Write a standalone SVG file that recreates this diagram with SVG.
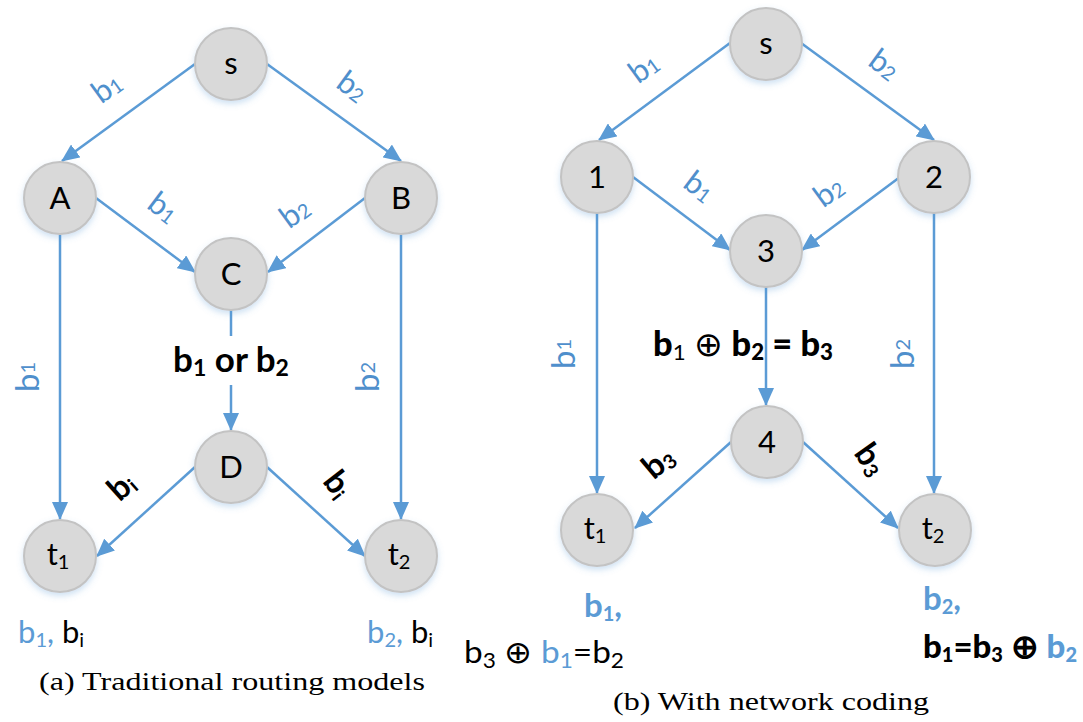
<svg xmlns="http://www.w3.org/2000/svg" width="1083" height="722" viewBox="0 0 1083 722">
<style>
.node circle{fill:#D9D9D9;stroke:#C3C3C3;stroke-width:2;filter:url(#glow)}
.node text{font-family:Lato,"Open Sans","Liberation Sans",sans-serif;font-size:31px;fill:#000;text-anchor:middle}
.edge{stroke:#5B9BD5;stroke-width:2.5;fill:none}
.arr{marker-end:url(#ah)}
.el{font-family:Lato,"Open Sans","Liberation Sans",sans-serif;font-size:31px;fill:#4F8FCC;text-anchor:middle}
.bl{font-family:Lato,"Open Sans","Liberation Sans",sans-serif;font-size:33px;font-weight:bold;fill:#000}
.rg{font-family:Lato,"Open Sans","Liberation Sans",sans-serif;font-size:31px;fill:#000}
.blue{fill:#5B9BD5}
.cap{font-family:"Liberation Serif","DejaVu Serif",serif;font-size:26px;fill:#000}
.sub{font-size:20px}
</style>
<defs>
<marker id="ah" markerUnits="userSpaceOnUse" markerWidth="18" markerHeight="16" refX="17" refY="8" orient="auto">
<path d="M0,0 L18,8 L0,16 z" fill="#5B9BD5"/>
</marker>
<filter id="glow" x="-30%" y="-30%" width="160%" height="170%">
<feDropShadow dx="0" dy="3" stdDeviation="3" flood-color="#5B9BD5" flood-opacity="0.3"/>
</filter>
</defs>

<g id="connectors">
<path class="edge arr" d="M195,64 L62,161"/>
<path class="edge arr" d="M267,64 L401,161"/>
<path class="edge arr" d="M96,198 L195,272"/>
<path class="edge arr" d="M365,198 L268,272"/>
<path class="edge arr" d="M60,235 L60,519"/>
<path class="edge arr" d="M401,235 L401,519"/>
<path class="edge" d="M231,310 L231,336"/>
<path class="edge arr" d="M231,385 L231,430"/>
<path class="edge arr" d="M195,467 L97,556"/>
<path class="edge arr" d="M267,467 L365,556"/>

<path class="edge arr" d="M730,43 L599,140"/>
<path class="edge arr" d="M801,43 L934,140"/>
<path class="edge arr" d="M633,177 L730,250"/>
<path class="edge arr" d="M900,177 L802,250"/>
<path class="edge arr" d="M597,213 L597,493"/>
<path class="edge arr" d="M934,213 L934,493"/>
<path class="edge arr" d="M766,287 L766,405"/>
<path class="edge arr" d="M731,442 L635,528"/>
<path class="edge arr" d="M803,442 L898,528"/>
</g>

<g id="a-s" class="node"><circle cx="231" cy="64" r="36"/><text x="231" y="74">s</text></g>
<g id="a-A" class="node"><circle cx="60" cy="198" r="36"/><text x="60" y="209">A</text></g>
<g id="a-B" class="node"><circle cx="401" cy="198" r="36"/><text x="401" y="209">B</text></g>
<g id="a-C" class="node"><circle cx="231" cy="274" r="36"/><text x="231" y="285">C</text></g>
<g id="a-D" class="node"><circle cx="231" cy="467" r="36"/><text x="231" y="478">D</text></g>
<g id="a-t1" class="node"><circle cx="60" cy="556" r="36"/><text x="58" y="565">t<tspan class="sub" dy="4">1</tspan></text></g>
<g id="a-t2" class="node"><circle cx="401" cy="556" r="36"/><text x="399" y="565">t<tspan class="sub" dy="4">2</tspan></text></g>

<g id="b-s" class="node"><circle cx="766" cy="44" r="36"/><text x="766" y="54">s</text></g>
<g id="b-1" class="node"><circle cx="597" cy="177" r="36"/><text x="597" y="188">1</text></g>
<g id="b-2" class="node"><circle cx="934" cy="177" r="36"/><text x="934" y="188">2</text></g>
<g id="b-3" class="node"><circle cx="766" cy="251" r="36"/><text x="766" y="262">3</text></g>
<g id="b-4" class="node"><circle cx="767" cy="442" r="36"/><text x="767" y="453">4</text></g>
<g id="b-t1" class="node"><circle cx="597" cy="530" r="36"/><text x="595" y="539">t<tspan class="sub" dy="4">1</tspan></text></g>
<g id="b-t2" class="node"><circle cx="935" cy="530" r="36"/><text x="933" y="539">t<tspan class="sub" dy="4">2</tspan></text></g>

<g id="labels-a">
<text class="el" transform="translate(107,88) rotate(-36)" y="10">b<tspan class="sub" dy="1">1</tspan></text>
<text class="el" transform="translate(352,87) rotate(36)" y="10">b<tspan class="sub" dy="1">2</tspan></text>
<text class="el" transform="translate(163,208) rotate(37)" y="10">b<tspan class="sub" dy="1">1</tspan></text>
<text class="el" transform="translate(295,213) rotate(-36)" y="10">b<tspan class="sub" dy="1">2</tspan></text>
<text class="el" transform="translate(28,377) rotate(-90)" y="11" style="font-size:33px">b<tspan class="sub" dy="-4" style="font-size:20px">1</tspan></text>
<text class="el" transform="translate(368,377) rotate(-90)" y="11" style="font-size:33px">b<tspan class="sub" dy="-4" style="font-size:20px">2</tspan></text>
<text class="bl" x="231" y="372" text-anchor="middle" style="font-size:35px">b<tspan class="sub" dy="4" style="font-size:23px">1</tspan><tspan dy="-4"> or b</tspan><tspan class="sub" dy="4" style="font-size:23px">2</tspan></text>
<text class="bl" transform="translate(122,487) rotate(-42)" y="10" text-anchor="middle">b<tspan class="sub" dy="3">i</tspan></text>
<text class="bl" transform="translate(337,485) rotate(52)" y="10" text-anchor="middle">b<tspan class="sub" dy="3">i</tspan></text>
<text class="rg" x="18" y="643"><tspan class="blue">b<tspan class="sub" dy="4">1</tspan><tspan dy="-4">,</tspan></tspan> b<tspan class="sub" dy="4">i</tspan></text>
<text class="rg" x="367" y="643"><tspan class="blue">b<tspan class="sub" dy="4">2</tspan><tspan dy="-4">,</tspan></tspan> b<tspan class="sub" dy="4">i</tspan></text>
<text class="cap" x="39" y="690" textLength="386" lengthAdjust="spacingAndGlyphs">(a) Traditional routing models</text>
</g>

<g id="labels-b">
<text class="el" transform="translate(644,68) rotate(-36)" y="10">b<tspan class="sub" dy="1">1</tspan></text>
<text class="el" transform="translate(884,65) rotate(36)" y="10">b<tspan class="sub" dy="1">2</tspan></text>
<text class="el" transform="translate(699,187) rotate(37)" y="10">b<tspan class="sub" dy="1">1</tspan></text>
<text class="el" transform="translate(829,192) rotate(-36)" y="10">b<tspan class="sub" dy="1">2</tspan></text>
<text class="el" transform="translate(564,354) rotate(-90)" y="11" style="font-size:33px">b<tspan class="sub" dy="-4" style="font-size:20px">1</tspan></text>
<text class="el" transform="translate(903,354) rotate(-90)" y="11" style="font-size:33px">b<tspan class="sub" dy="-4" style="font-size:20px">2</tspan></text>
<text class="bl" x="653" y="356" textLength="180" lengthAdjust="spacingAndGlyphs" style="font-weight:900;font-size:34px">b<tspan class="sub" dy="4" style="font-weight:normal;font-size:22px">1</tspan><tspan dy="-4" style="font-weight:normal"> ⊕ </tspan>b<tspan class="sub" dy="4" style="font-size:22px">2</tspan><tspan dy="-4"> = b</tspan><tspan class="sub" dy="4" style="font-size:22px">3</tspan></text>
<text class="bl" transform="translate(659,463) rotate(-40)" y="10" text-anchor="middle">b<tspan class="sub" dy="3">3</tspan></text>
<text class="bl" transform="translate(870,460) rotate(55)" y="10" text-anchor="middle">b<tspan class="sub" dy="3">3</tspan></text>
<text class="bl blue" x="584" y="617">b<tspan class="sub" dy="4">1</tspan><tspan dy="-4">,</tspan></text>
<text class="rg" x="464" y="663" textLength="160" lengthAdjust="spacingAndGlyphs">b<tspan class="sub" dy="5" style="font-size:21px">3</tspan><tspan dy="-5"> ⊕ </tspan><tspan class="blue">b<tspan class="sub" dy="5" style="font-size:21px">1</tspan></tspan><tspan dy="-5">=b</tspan><tspan class="sub" dy="5" style="font-size:21px">2</tspan></text>
<text class="bl blue" x="923" y="610">b<tspan class="sub" dy="4">2</tspan><tspan dy="-4">,</tspan></text>
<text class="bl" x="923" y="658" textLength="154" lengthAdjust="spacingAndGlyphs" style="font-weight:900">b<tspan class="sub" dy="4">1</tspan><tspan dy="-4">=b</tspan><tspan class="sub" dy="4">3</tspan><tspan dy="-4"> ⊕ </tspan><tspan class="blue">b<tspan class="sub" dy="4">2</tspan></tspan></text>
<text class="cap" x="613" y="710" textLength="316" lengthAdjust="spacingAndGlyphs">(b) With network coding</text>
</g>
</svg>
